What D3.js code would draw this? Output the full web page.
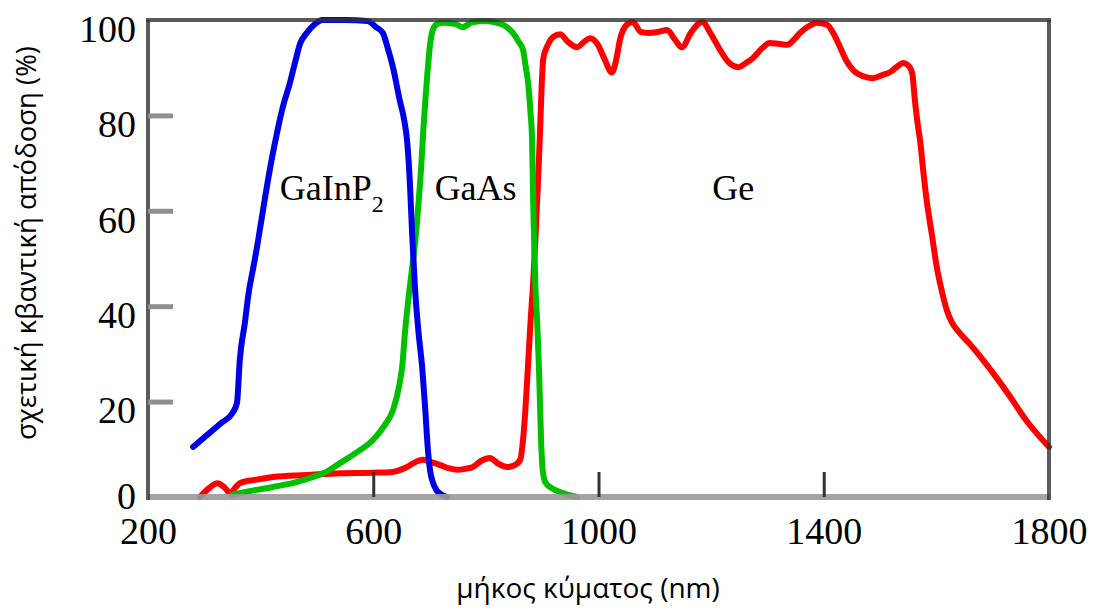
<!DOCTYPE html>
<html>
<head>
<meta charset="utf-8">
<script src="https://cdn.jsdelivr.net/npm/d3@7"></script>
<style>
  html, body { margin: 0; padding: 0; background: #fff; }
  svg { display: block; }
</style>
</head>
<body>
<svg id="chart" width="1094" height="610"></svg>
<script>
// Relative quantum efficiency (%) of the three junctions, [wavelength nm, QE %]
const gainpCurve = [
  [280,10.5],[300,12.5],[330,15.5],[350,17.6],[358,19.7],[363,28.7],[372,36.5],[379,43],
  [386,47.5],[393,52],[402,58.5],[411,65],[420,71],[429,76.3],[440,82],[452,86.8],[462,91.5],
  [470,95],[482,97.3],[495,99],[510,100],[550,100],[590,99.8],[605,98.5],[617,97.3],[626,94],
  [635,90.1],[647,83.2],[655,79],[660,74.8],[665,66],[669,55.3],[674,44],[680,35],[687,27],
  [692,19],[697,10],[701,5.5],[706,3],[712,1.5],[720,0.6],[731,0]
];
const gaasCurve = [
  [350,0.5],[380,1.2],[422,2.1],[460,3],[493,4.2],[520,5.5],[541,7.1],[570,9.3],[600,12],
  [620,15],[635,18.2],[647,23.9],[652,28],[656,34],[662,41],[668,47],[674,53],[680,61],
  [685,69],[689,77],[693,84],[697,90],[701,95],[706,98],[714,99.2],[724,99.4],[745,99.2],
  [759,98.5],[775,99.5],[800,99.8],[820,99.4],[835,98.7],[848,97.3],[858,95.5],[866,93.7],
  [871,90],[875,86.8],[879,81],[882,75],[884,62],[886,52],[888,44],[891,37],[894,28],
  [896,20],[898,12],[901,5.5],[906,3],[915,2],[926,1.3],[945,0.5],[962,0]
];
const geCurve = [
  [292,0],[310,2],[323,2.9],[336,2],[346,0.8],[354,1.8],[363,2.9],[390,3.6],[422,4.2],
  [482,4.6],[541,5],[600,5.1],[630,5.2],[660,6.3],[676,7.4],[688,7.8],[703,7.3],[719,6.7],
  [735,6],[749,5.7],[763,5.9],[777,6.3],[792,7.6],[807,8.2],[822,7],[838,6.3],[850,6.6],
  [861,7.8],[866,12],[870,18],[875,28],[880,38],[884,45],[888,54],[891,62],[894,70],
  [896,76],[899,86],[902,92],[909,94.5],[920,96.5],[932,97],[945,95.5],[962,94.3],[975,95.5],
  [985,96.2],[998,95],[1010,92],[1024,89],[1032,92],[1038,95.8],[1050,99],[1061,99.6],
  [1075,97.5],[1088,97.3],[1105,97.5],[1122,97.9],[1135,96],[1148,94.3],[1165,97.5],
  [1184,99.6],[1200,97],[1216,93.7],[1232,91],[1248,90.1],[1262,91],[1274,92],[1290,94],
  [1304,95.2],[1320,95],[1335,94.8],[1348,96],[1358,97.3],[1375,98.8],[1388,99.4],[1406,99],
  [1418,97],[1429,94.3],[1440,91.5],[1452,89.5],[1470,88.2],[1487,87.8],[1505,88.5],
  [1518,89.1],[1530,90.2],[1541,91],[1550,90.5],[1557,88.9],[1562,83],[1567,78],[1571,74.8],
  [1577,68],[1583,62],[1592,55],[1601,48],[1610,43],[1619,39],[1628,36.5],[1637,35],
  [1660,32],[1683,28.7],[1710,24.5],[1731,21],[1760,16],[1800,10.5]
];

const xTicks = [200, 600, 1000, 1400, 1800];
const yTicks = [0, 20, 40, 60, 80, 100];

const seriesLabels = [
  { name: "GaInP", sub: "2", wl: 434, qe: 62.3 },
  { name: "GaAs", sub: "", wl: 709, qe: 62.3 },
  { name: "Ge", sub: "", wl: 1202, qe: 62.3 }
];

const xTitle = "μήκος κύματος (nm)";
const yTitle = "σχετική κβαντική απόδοση (%)";

// ---- layout ----
const plot = { left: 148, right: 1049, top: 20, bottom: 497 };
const svg = d3.select("#chart");
const x = d3.scaleLinear().domain([200, 1800]).range([plot.left, plot.right]);
const y = d3.scaleLinear().domain([0, 100]).range([plot.bottom, plot.top]);

svg.append("rect").attr("width", 1094).attr("height", 610).attr("fill", "#fff");

const serif = "'Liberation Serif', 'Times New Roman', serif";
const sans = "'Open Sans', 'Noto Sans', sans-serif";

// ---- curves ----
const line = d3.line()
  .x(d => x(d[0]))
  .y(d => y(d[1]))
  .curve(d3.curveMonotoneX);

const curves = [
  { data: geCurve, color: "#ff0000" },
  { data: gaasCurve, color: "#00c000" },
  { data: gainpCurve, color: "#0000e6" }
];
svg.append("g").selectAll("path")
  .data(curves)
  .join("path")
  .attr("d", d => line(d.data))
  .attr("fill", "none")
  .attr("stroke", d => d.color)
  .attr("stroke-width", 6)
  .attr("stroke-linejoin", "round")
  .attr("stroke-linecap", "round");

// ---- frame and axes ----
const frame = svg.append("g");
// bottom axis band
frame.append("line")
  .attr("x1", plot.left).attr("x2", plot.right)
  .attr("y1", plot.bottom).attr("y2", plot.bottom)
  .attr("stroke", "#9a9a9a").attr("stroke-width", 6).attr("opacity", 0.9);
// top, left, right edges
frame.append("line")
  .attr("x1", plot.left - 2).attr("x2", plot.right + 2)
  .attr("y1", plot.top).attr("y2", plot.top)
  .attr("stroke", "#333").attr("stroke-width", 4).attr("opacity", 0.8);
frame.append("line")
  .attr("x1", plot.left).attr("x2", plot.left)
  .attr("y1", plot.top).attr("y2", plot.bottom + 3)
  .attr("stroke", "#333").attr("stroke-width", 4).attr("opacity", 0.8);
frame.append("line")
  .attr("x1", plot.right).attr("x2", plot.right)
  .attr("y1", plot.top).attr("y2", plot.bottom + 3)
  .attr("stroke", "#333").attr("stroke-width", 4).attr("opacity", 0.8);

// y axis: inward grey ticks, serif labels
const yAxis = d3.axisLeft(y).tickValues(yTicks).tickFormat(d3.format("d"))
  .tickSize(0).tickPadding(12);
const yg = svg.append("g").attr("transform", `translate(${plot.left},0)`).call(yAxis);
yg.select(".domain").remove();
yg.selectAll(".tick text")
  .attr("font-family", serif).attr("font-size", 38).attr("fill", "#000")
  .attr("dy", d => d === 0 ? "0.3em" : "0.56em");
yg.selectAll(".tick").filter(d => d > 0 && d < 100)
  .append("line")
  .attr("x1", 0).attr("x2", 25)
  .attr("stroke", "#8f8f8f").attr("stroke-width", 5);

// x axis: inward dark ticks, serif labels
const xAxis = d3.axisBottom(x).tickValues(xTicks).tickFormat(d3.format("d"))
  .tickSize(0).tickPadding(20);
const xg = svg.append("g").attr("transform", `translate(0,${plot.bottom})`).call(xAxis);
xg.select(".domain").remove();
xg.selectAll(".tick text")
  .attr("font-family", serif).attr("font-size", 38).attr("fill", "#000")
  .attr("dy", "0.72em");
xg.selectAll(".tick").filter(d => d > 200 && d < 1800)
  .append("line")
  .attr("y1", 0).attr("y2", -25)
  .attr("stroke", "#333").attr("stroke-width", 3);

// ---- curve labels ----
const lbl = svg.append("g")
  .attr("font-family", serif).attr("font-size", 36).attr("fill", "#000");
seriesLabels.forEach(s => {
  const t = lbl.append("text").attr("x", x(s.wl)).attr("y", y(s.qe));
  t.append("tspan").text(s.name);
  if (s.sub) {
    t.append("tspan").attr("font-size", 24).attr("dy", 12).text(s.sub);
  }
});

// ---- axis titles ----
svg.append("text")
  .attr("x", 588).attr("y", 598)
  .attr("text-anchor", "middle")
  .attr("font-family", sans).attr("font-size", 28).attr("fill", "#000")
  .text(xTitle);
svg.append("text")
  .attr("transform", "translate(36,243) rotate(-90)")
  .attr("text-anchor", "middle")
  .attr("font-family", sans).attr("font-size", 27.5).attr("fill", "#000")
  .text(yTitle);
</script>
</body>
</html>
